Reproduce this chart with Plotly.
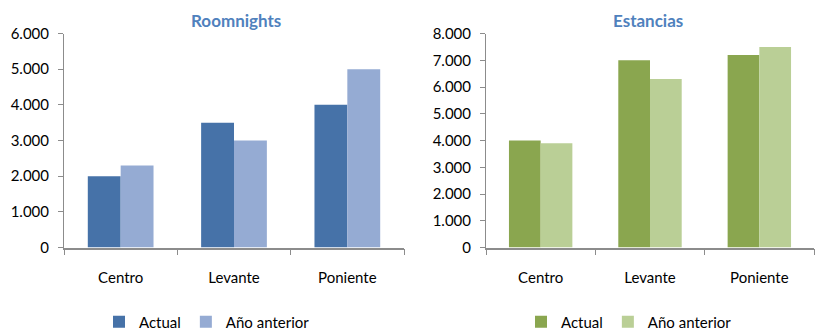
import plotly.graph_objects as go

# Regions shown on both charts
categorias = ["Centro", "Levante", "Poniente"]

# Roomnights by region
roomnights_actual = [2000, 3500, 4000]
roomnights_anterior = [2300, 3000, 5000]

# Estancias by region
estancias_actual = [4000, 7000, 7200]
estancias_anterior = [3900, 6300, 7500]

series_labels = ["Actual", "Año anterior"]
titulos = ["Roomnights", "Estancias"]

AZUL = "#4672A8"
AZUL_CLARO = "#95ABD3"
VERDE = "#8AA64F"
VERDE_CLARO = "#BACF96"
TITULO_COLOR = "#4F81BD"
EJE_COLOR = "#8C8C8C"
TEXTO = "#000000"
FUENTE = "Lato"

fig = go.Figure()

fig.add_trace(go.Bar(x=categorias, y=roomnights_actual, name=series_labels[0],
                     marker=dict(color=AZUL, line=dict(width=0)),
                     xaxis="x", yaxis="y", legend="legend"))
fig.add_trace(go.Bar(x=categorias, y=roomnights_anterior, name=series_labels[1],
                     marker=dict(color=AZUL_CLARO, line=dict(width=0)),
                     xaxis="x", yaxis="y", legend="legend"))
fig.add_trace(go.Bar(x=categorias, y=estancias_actual, name=series_labels[0],
                     marker=dict(color=VERDE, line=dict(width=0)),
                     xaxis="x2", yaxis="y2", legend="legend2"))
fig.add_trace(go.Bar(x=categorias, y=estancias_anterior, name=series_labels[1],
                     marker=dict(color=VERDE_CLARO, line=dict(width=0)),
                     xaxis="x2", yaxis="y2", legend="legend2"))

W, H = 815, 331
y_dom = [(H - 247.5) / H, (H - 33.5) / H]

cat_axis = dict(
    type="category", range=[-0.5, 2.5], showline=True, linecolor=EJE_COLOR,
    linewidth=1.5, ticks="outside", tickson="boundaries", ticklen=6,
    tickcolor=EJE_COLOR, tickwidth=1, showgrid=False, zeroline=False,
    tickfont=dict(family=FUENTE, size=15, color=TEXTO), ticklabelstandoff=16,
    fixedrange=True,
)
val_axis = dict(
    showline=True, linecolor=EJE_COLOR, linewidth=1, ticks="outside",
    ticklen=5, tickcolor=EJE_COLOR, showgrid=False, zeroline=False,
    tickformat=",", dtick=1000, tickfont=dict(family=FUENTE, size=15, color=TEXTO),
    ticklabelstandoff=6, domain=y_dom, fixedrange=True,
)

leg = dict(orientation="h", xanchor="center", yanchor="middle",
           font=dict(family=FUENTE, size=15, color=TEXTO),
           bgcolor="rgba(0,0,0,0)", itemwidth=30, tracegroupgap=0)

fig.update_layout(
    width=W, height=H, margin=dict(l=0, r=0, t=0, b=0, autoexpand=False),
    paper_bgcolor="white", plot_bgcolor="white",
    separators=",.", barmode="group", bargap=0.42, bargroupgap=0,
    font=dict(family=FUENTE, color=TEXTO),
    xaxis=dict(cat_axis, domain=[64 / W, 404 / W], anchor="y"),
    yaxis=dict(val_axis, range=[0, 6000], anchor="x"),
    xaxis2=dict(cat_axis, domain=[486 / W, 814 / W], anchor="y2"),
    yaxis2=dict(val_axis, range=[0, 8000], anchor="x2"),
    legend=dict(leg, x=207 / W, y=(H - 322) / H),
    legend2=dict(leg, x=629 / W, y=(H - 322) / H),
    annotations=[
        dict(text="<b>%s</b>" % titulos[0], x=236 / W, y=(H - 20) / H,
             xref="paper", yref="paper", xanchor="center", yanchor="middle",
             showarrow=False,
             font=dict(family=FUENTE, size=17, color=TITULO_COLOR)),
        dict(text="<b>%s</b>" % titulos[1], x=648 / W, y=(H - 20) / H,
             xref="paper", yref="paper", xanchor="center", yanchor="middle",
             showarrow=False,
             font=dict(family=FUENTE, size=17, color=TITULO_COLOR)),
    ],
)

fig.write_html("out.html")
